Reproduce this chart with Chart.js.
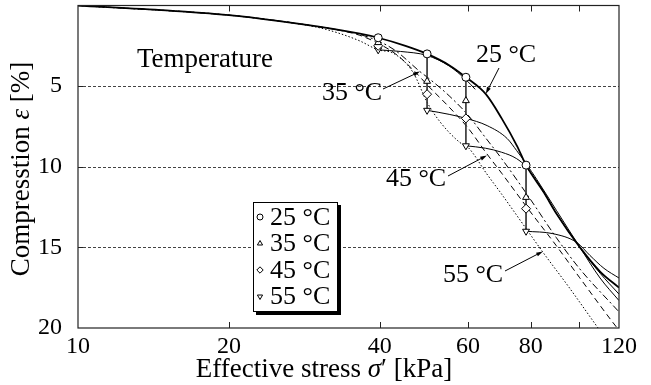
<!DOCTYPE html>
<html>
<head>
<meta charset="utf-8">
<script src="https://cdn.jsdelivr.net/npm/chart.js@4.4.1/dist/chart.umd.min.js"></script>
<style>
html, body { margin: 0; padding: 0; background: #fff; }
#wrap { width: 651px; height: 385px; }
</style>
</head>
<body>
<div id="wrap"><canvas id="chart" width="651" height="385"></canvas></div>
<script>
const serif = '"Liberation Serif", "Times New Roman", serif';

// stresses where the specimens were heated (kPa)
const steps = [39.7, 49.7, 59.4, 78.3];
// compression measured at each stress step (%)
const at25 = [2.0, 3.0, 4.45, 9.9];
const at35 = [2.3, 4.7, 5.9, 11.9];
const at45 = [2.5, 5.5, 7.0, 12.6];
const at55 = [2.75, 6.5, 8.7, 14.0];

// constant temperature curves
const c25s = [10, 15, 20, 25, 30, 36.5, 39.7, 45, 49.7, 55, 59.4, 65.1, 70, 75.1, 78.3, 85, 90, 100.3, 110, 120];
const c25e = [0, 0.3, 0.6, 0.95, 1.3, 1.75, 2.0, 2.5, 3.0, 3.7, 4.45, 5.5, 7.0, 8.7, 9.9, 11.6, 12.9, 15.0, 16.5, 17.5];
const c35s = [10, 20, 30, 36.5, 39.7, 43, 48.1, 50, 55, 60, 65, 70, 79, 90, 100, 120];
const c35e = [0, 0.6, 1.3, 1.8, 2.2, 2.8, 4.1, 4.5, 5.6, 6.8, 8.2, 9.5, 11.8, 14.4, 16.3, 19.0];
const c45s = [10, 20, 30, 34, 36.5, 39.7, 43, 47, 50, 55, 60, 65.4, 70, 79, 90, 100, 119, 125];
const c45e = [0, 0.6, 1.3, 1.6, 1.85, 2.35, 3.0, 4.1, 5.0, 6.3, 7.6, 9.2, 10.4, 12.6, 14.9, 16.85, 20.0, 20.8];
const c55s = [10, 20, 25, 30, 33, 36.5, 39.7, 42.5, 46.6, 49.7, 52.7, 57.8, 60, 65.4, 70, 79, 84.6, 95, 109, 115];
const c55e = [0, 0.6, 0.95, 1.35, 1.7, 2.2, 2.75, 2.95, 4.15, 6.0, 7.2, 8.5, 8.8, 10.45, 11.7, 14.0, 15.3, 17.4, 20.0, 21.0];

// loading after heating, one path per heated specimen
const p1s = [39.7, 44, 49.7, 55, 59.4, 62];
const p1e = [2.75, 2.85, 3.1, 3.75, 4.6, 5.2];
const p2s = [49.7, 55, 59.4, 65.5, 71.8, 75, 78.3, 82.3, 90, 100.3, 110, 120];
const p2e = [6.5, 6.75, 7.0, 7.45, 8.25, 9.0, 9.8, 10.8, 12.7, 15.0, 16.9, 18.3];
const p3s = [59.4, 65, 70, 75, 78.3, 85, 90, 100.3, 110, 120];
const p3e = [8.7, 8.85, 9.1, 9.5, 10.0, 11.6, 12.9, 15.0, 16.6, 17.9];
const p4s = [78.3, 88.6, 98.9, 105, 112, 120];
const p4e = [14.0, 14.15, 14.7, 15.5, 16.3, 16.9];

const xTicks = [10, 20, 40, 60, 80, 100, 120];
const gridLevels = [5, 10, 15];

const pts = (s, e) => s.map((v, i) => ({ x: v, y: e[i] }));

function curve(s, e, width, dash) {
    return {
        data: pts(s, e),
        borderColor: '#000',
        borderWidth: width,
        borderDash: dash,
        pointRadius: 0,
        cubicInterpolationMode: 'monotone',
        order: 2
    };
}

function markers(e, style, rot, r) {
    return {
        data: pts(steps, e),
        showLine: false,
        pointStyle: style,
        rotation: rot,
        pointRadius: r,
        pointBorderWidth: 1,
        pointBackgroundColor: '#fff',
        pointBorderColor: '#000',
        order: 0
    };
}

const verticals = steps.map((s, i) => ({
    data: [{ x: s, y: at25[i] }, { x: s, y: at55[i] }],
    borderColor: '#333',
    borderWidth: 0.9,
    pointRadius: 0,
    order: 1
}));

const legendRows = [
    ['25 °C', 'circle', 0, 3],
    ['35 °C', 'triangle', 0, 3],
    ['45 °C', 'rectRot', 0, 3.2],
    ['55 °C', 'triangle', 180, 3]
];

// label text, text centre (px), arrow tail (px), arrow tip (data)
const notes = [
    ['25 °C', 506, 55, 499, 68, 65.1, 5.47],
    ['35 °C', 352, 93, 383, 89, 48.1, 4.1],
    ['45 °C', 416, 179, 448, 176, 65.4, 9.3],
    ['55 °C', 473, 275, 505, 271, 84.6, 15.25]
];

function runs(ctx, parts, x, y, align) {
    let total = 0;
    parts.forEach(p => { ctx.font = p[1]; total += ctx.measureText(p[0]).width; });
    let cx = align === 'center' ? x - total / 2 : x;
    ctx.textAlign = 'left';
    parts.forEach(p => {
        ctx.font = p[1];
        ctx.fillText(p[0], cx, y);
        cx += ctx.measureText(p[0]).width;
    });
}

function arrow(ctx, x0, y0, x1, y1) {
    const a = Math.atan2(y1 - y0, x1 - x0), h = 7;
    ctx.beginPath();
    ctx.moveTo(x0, y0);
    ctx.lineTo(x1 - Math.cos(a) * 3, y1 - Math.sin(a) * 3);
    ctx.stroke();
    ctx.beginPath();
    ctx.moveTo(x1, y1);
    ctx.lineTo(x1 - h * Math.cos(a - 0.3), y1 - h * Math.sin(a - 0.3));
    ctx.lineTo(x1 - h * Math.cos(a + 0.3), y1 - h * Math.sin(a + 0.3));
    ctx.closePath();
    ctx.fill();
}

const frame = {
    id: 'frame',
    beforeDatasetsDraw(chart) {
        const { ctx, chartArea: a, scales: { y } } = chart;
        ctx.save();
        ctx.strokeStyle = '#444';
        ctx.lineWidth = 1;
        ctx.setLineDash([3, 2]);
        gridLevels.forEach(v => {
            const py = Math.round(y.getPixelForValue(v)) + 0.5;
            ctx.beginPath();
            ctx.moveTo(a.left, py);
            ctx.lineTo(a.right, py);
            ctx.stroke();
        });
        ctx.restore();
    },
    afterDatasetsDraw(chart) {
        const { ctx, chartArea: a, scales: { x, y } } = chart;
        ctx.save();
        ctx.strokeStyle = '#222';
        ctx.lineWidth = 1.2;
        ctx.strokeRect(a.left, a.top, a.right - a.left, a.bottom - a.top);
        ctx.lineWidth = 1;
        ctx.beginPath();
        xTicks.slice(1, -1).forEach(v => {
            const px = Math.round(x.getPixelForValue(v)) + 0.5;
            ctx.moveTo(px, a.bottom); ctx.lineTo(px, a.bottom - 6);
            ctx.moveTo(px, a.top); ctx.lineTo(px, a.top + 6);
        });
        gridLevels.forEach(v => {
            const py = Math.round(y.getPixelForValue(v)) + 0.5;
            ctx.moveTo(a.left, py); ctx.lineTo(a.left + 5, py);
        });
        ctx.stroke();
        ctx.restore();
    },
    afterDraw(chart) {
        const { ctx, scales: { x, y } } = chart;
        const f = s => `${s}px ${serif}`;
        ctx.save();
        ctx.fillStyle = '#000';
        ctx.strokeStyle = '#000';
        ctx.textBaseline = 'middle';

        ctx.font = f(27);
        ctx.textAlign = 'left';
        ctx.fillText('Temperature', 137, 60);

        ctx.lineWidth = 1;
        notes.forEach(n => {
            ctx.font = f(26);
            ctx.textAlign = 'center';
            ctx.fillText(n[0], n[1], n[2]);
            arrow(ctx, n[3], n[4], x.getPixelForValue(n[5]), y.getPixelForValue(n[6]));
        });

        // legend box with drop shadow
        const bx = 253, by = 202, bw = 84, bh = 109;
        ctx.fillStyle = '#000';
        ctx.fillRect(bx + 3, by + 3, bw + 1, bh + 1);
        ctx.fillStyle = '#fff';
        ctx.fillRect(bx, by, bw, bh);
        ctx.strokeStyle = '#000';
        ctx.lineWidth = 1;
        ctx.strokeRect(bx + 0.5, by + 0.5, bw, bh);
        legendRows.forEach((r, i) => {
            const ry = by + 15 + i * 26.5;
            ctx.fillStyle = '#fff';
            ctx.strokeStyle = '#000';
            Chart.helpers.drawPoint(ctx, { pointStyle: r[1], radius: r[3], rotation: r[2], borderWidth: 0.9 }, bx + 7, ry);
            ctx.fillStyle = '#000';
            ctx.font = f(26);
            ctx.textAlign = 'left';
            ctx.fillText(r[0], bx + 17, ry + 1);
        });

        // axis titles
        ctx.fillStyle = '#000';
        runs(ctx, [['Effective stress ', f(27)], ['σ', 'italic ' + f(27)], ['′ [kPa]', f(27)]], 324, 370, 'center');
        ctx.translate(22, 169);
        ctx.rotate(-Math.PI / 2);
        runs(ctx, [['Compresstion ', f(27)], ['ε', 'italic ' + f(27)], [' [%]', f(27)]], 0, 0, 'center');
        ctx.restore();
    }
};

new Chart(document.getElementById('chart'), {
    type: 'line',
    data: {
        datasets: [
            markers(at25, 'circle', 0, 4),
            markers(at35, 'triangle', 0, 4),
            markers(at45, 'rectRot', 0, 4.5),
            markers(at55, 'triangle', 180, 4),
            ...verticals,
            curve(p1s, p1e, 1, []),
            curve(p2s, p2e, 1, []),
            curve(p3s, p3e, 1, []),
            curve(p4s, p4e, 1, []),
            curve(c55s, c55e, 1, [1.5, 2]),
            curve(c45s, c45e, 1, [6, 4]),
            curve(c35s, c35e, 1, [7, 3, 2, 3]),
            curve(c25s, c25e, 1.8, [])
        ]
    },
    options: {
        responsive: false,
        animation: false,
        layout: { padding: { top: 5, right: 32, left: 0, bottom: 0 } },
        plugins: { legend: { display: false }, tooltip: { enabled: false } },
        scales: {
            x: {
                type: 'logarithmic',
                min: 10,
                max: 120,
                afterBuildTicks: s => { s.ticks = xTicks.map(v => ({ value: v })); },
                afterFit: s => { s.height = 57; s.paddingLeft = 0; s.paddingRight = 0; },
                grid: { display: false },
                border: { display: false },
                ticks: {
                    autoSkip: false,
                    maxRotation: 0,
                    padding: -4,
                    color: '#000',
                    font: { family: serif, size: 24 },
                    callback: v => (v === 100 ? '' : String(v))
                }
            },
            y: {
                type: 'linear',
                min: 0,
                max: 20,
                reverse: true,
                afterFit: s => { s.width = 78; s.paddingTop = 0; s.paddingBottom = 0; },
                grid: { display: false },
                border: { display: false },
                ticks: {
                    stepSize: 5,
                    padding: 8,
                    color: '#000',
                    font: { family: serif, size: 24 },
                    callback: v => (v === 0 ? '' : String(v))
                }
            }
        }
    },
    plugins: [frame]
});
</script>
</body>
</html>
